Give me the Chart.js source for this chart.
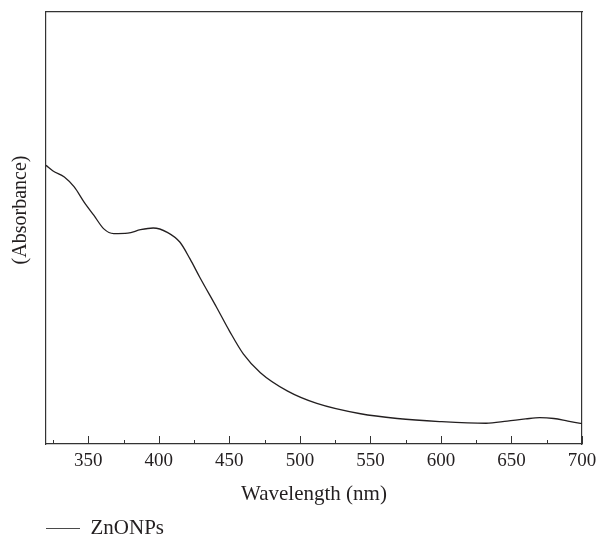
<!DOCTYPE html>
<html>
<head>
<meta charset="utf-8">
<script src="https://cdn.jsdelivr.net/npm/chart.js@4"></script>
<style>
  html, body { margin: 0; padding: 0; background: #fff; }
</style>
</head>
<body>
<canvas id="mycanvas" width="597" height="535"></canvas>
<script>
// UV-vis spectrum of ZnONPs (arbitrary absorbance units)
var wavelength = [320, 325, 333, 340, 347, 354, 361, 368, 378, 387, 396, 406, 415, 422, 429,
                  441, 450, 460, 472, 491, 512, 543, 569, 599, 632, 647, 660, 670, 680, 690, 700];
var absorbance = [0.645, 0.632, 0.618, 0.595, 0.560, 0.529, 0.498, 0.487, 0.488, 0.496, 0.500,
                  0.490, 0.467, 0.429, 0.386, 0.316, 0.262, 0.208, 0.165, 0.123, 0.094, 0.070,
                  0.059, 0.052, 0.048, 0.053, 0.058, 0.061, 0.059, 0.053, 0.047];
var majorTicks = [350, 400, 450, 500, 550, 600, 650, 700];
var minorTicks = [325, 375, 425, 475, 525, 575, 625, 675];
var seriesName = 'ZnONPs';
var xTitle = 'Wavelength (nm)';
var yTitle = '(Absorbance)';

var ink = '#231f20';
var serif = "'Liberation Serif', 'DejaVu Serif', serif";

var points = [];
for (var i = 0; i < wavelength.length; i++) {
  points.push({x: wavelength[i], y: absorbance[i]});
}

// inward ticks (major + minor) and the rotated y title, placed like the original
var extras = {
  id: 'extras',
  afterDraw: function(chart) {
    var ctx = chart.ctx;
    var xs = chart.scales.x;
    var area = chart.chartArea;
    ctx.save();
    ctx.strokeStyle = '#333';
    ctx.lineWidth = 1;
    var all = majorTicks.map(function(v) { return [v, 8]; })
      .concat(minorTicks.map(function(v) { return [v, 4]; }));
    for (var i = 0; i < all.length; i++) {
      var px = Math.round(xs.getPixelForValue(all[i][0])) + 0.5;
      ctx.beginPath();
      ctx.moveTo(px, area.bottom);
      ctx.lineTo(px, area.bottom - all[i][1]);
      ctx.stroke();
    }
    ctx.translate(21, 210);
    ctx.rotate(-Math.PI / 2);
    ctx.fillStyle = ink;
    ctx.font = '20px ' + serif;
    ctx.textAlign = 'center';
    ctx.textBaseline = 'middle';
    ctx.fillText(yTitle, 0, 0);
    ctx.restore();
  }
};

var chartdata = {
  datasets: [{
    label: seriesName,
    data: points,
    borderColor: ink,
    backgroundColor: '#444',
    borderWidth: 1.3,
    pointRadius: 0,
    fill: false,
    cubicInterpolationMode: 'monotone'
  }]
};

var ctx = document.getElementById('mycanvas');

var chart = new Chart(ctx, {
  type: 'line',
  data: chartdata,
  plugins: [extras],
  options: {
    responsive: false,
    animation: false,
    layout: { padding: { left: 46, right: 15, top: 12, bottom: -14 } },
    plugins: {
      tooltip: { enabled: false },
      legend: {
        position: 'bottom',
        align: 'start',
        labels: {
          boxWidth: 34,
          boxHeight: 1,
          padding: 0,
          color: ink,
          font: { family: serif, size: 21 },
          generateLabels: function(c) {
            var items = Chart.defaults.plugins.legend.labels.generateLabels(c);
            items.forEach(function(it) {
              it.lineWidth = 0;
              it.fillStyle = '#4a4a4a';
            });
            return items;
          }
        }
      }
    },
    scales: {
      x: {
        type: 'linear',
        position: 'bottom',
        min: 320,
        max: 700,
        afterBuildTicks: function(s) {
          s.ticks = majorTicks.map(function(v) { return {value: v}; });
        },
        afterFit: function(s) {
          s.height = 74;
          s.paddingLeft = 0;
          s.paddingRight = 0;
        },
        grid: { drawOnChartArea: false, drawTicks: false },
        border: { color: '#333', width: 1.2 },
        ticks: {
          autoSkip: false,
          maxRotation: 0,
          padding: 6,
          color: ink,
          font: { family: serif, size: 19 }
        },
        title: {
          display: true,
          text: xTitle,
          color: ink,
          font: { family: serif, size: 21 },
          padding: { top: 0, bottom: 11 }
        }
      },
      xTop: {
        type: 'linear',
        position: 'top',
        min: 320,
        max: 700,
        afterFit: function(s) { s.height = 0; },
        grid: { display: false, drawTicks: false },
        border: { color: '#333', width: 1.2 },
        ticks: { display: false }
      },
      y: {
        min: 0,
        max: 1,
        afterFit: function(s) { s.width = 0; },
        grid: { display: false, drawTicks: false },
        border: { color: '#333', width: 1.2 },
        ticks: { display: false }
      },
      yRight: {
        position: 'right',
        min: 0,
        max: 1,
        afterFit: function(s) { s.width = 0; },
        grid: { display: false, drawTicks: false },
        border: { color: '#333', width: 1.2 },
        ticks: { display: false }
      }
    }
  }
});
</script>
</body>
</html>
